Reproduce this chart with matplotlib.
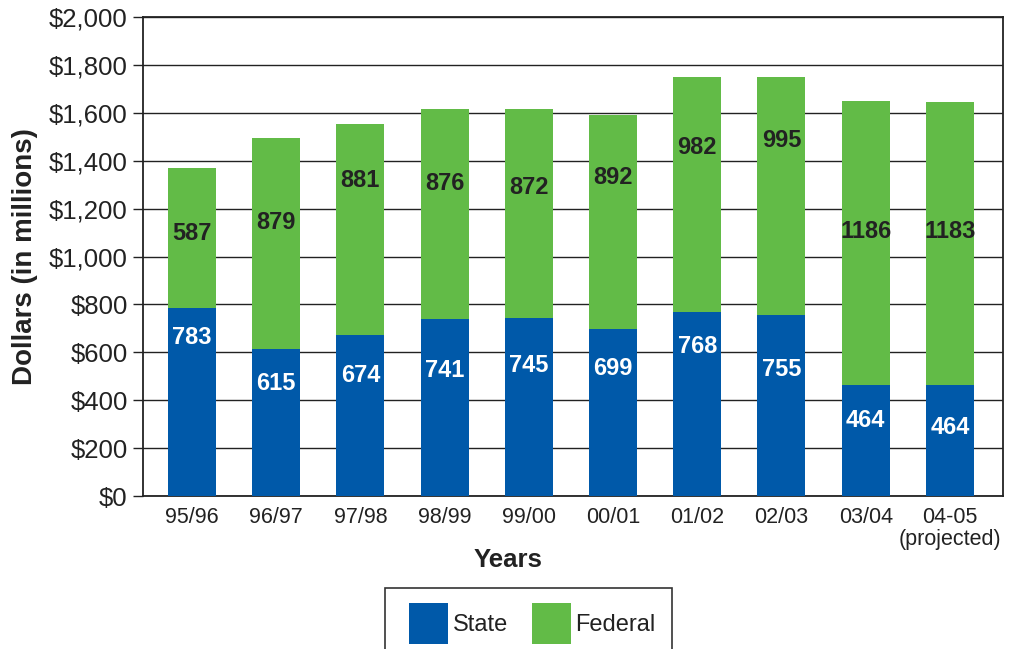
import matplotlib
matplotlib.use("Agg")
import matplotlib.pyplot as plt
from matplotlib.patches import Patch, Rectangle
from matplotlib.ticker import FuncFormatter, MultipleLocator

plt.rcParams['font.family'] = ['Liberation Sans', 'DejaVu Sans']

years = ["95/96", "96/97", "97/98", "98/99", "99/00", "00/01",
         "01/02", "02/03", "03/04", "04-05\n(projected)"]
state = [783, 615, 674, 741, 745, 699, 768, 755, 464, 464]
federal = [587, 879, 881, 876, 872, 892, 982, 995, 1186, 1183]

# vertical anchors (in dollars) for the in-bar value labels
state_label_y = [660, 468, 505, 526, 543, 534, 626, 530, 317, 288]
federal_label_y = [1094, 1144, 1319, 1303, 1290, 1328, 1457, 1486, 1106, 1106]

blue = "#0059A9"
green = "#62BB47"
ink = "#222222"

W, H = 1013, 649
fig = plt.figure(figsize=(W / 100, H / 100), dpi=100)
ax = fig.add_axes([143 / W, 1 - 496 / H, 860 / W, 479 / H])

x = range(len(years))
width = 0.57
ax.bar(x, state, width, color=blue, zorder=3)
ax.bar(x, federal, width, bottom=state, color=green, zorder=3)

for i in x:
    ax.text(i, state_label_y[i], str(state[i]), ha='center', va='center',
            color='white', fontsize=17, fontweight='bold', zorder=4)
    ax.text(i, federal_label_y[i], str(federal[i]), ha='center', va='center',
            color=ink, fontsize=17, fontweight='bold', zorder=4)

ax.set_xlim(-0.58, len(years) - 0.37)
ax.set_ylim(0, 2000)
ax.yaxis.set_major_locator(MultipleLocator(200))
ax.yaxis.set_major_formatter(FuncFormatter(lambda v, p: f"${v:,.0f}"))
ax.grid(axis='y', color=ink, linewidth=1.0, zorder=0)

ax.set_xticks(list(x))
ax.set_xticklabels(years, fontsize=15.5, color=ink, linespacing=1.05)
ax.tick_params(axis='x', length=0, pad=8)
ax.tick_params(axis='y', labelsize=18.5, labelcolor=ink, length=7,
               width=1.0, color=ink, pad=4)

for s in ax.spines.values():
    s.set_color(ink)
    s.set_linewidth(1.3)

ax.set_xlabel("Years", fontsize=18.5, fontweight='bold', color=ink)
ax.xaxis.set_label_coords((508 - 143) / 860, -(560 - 496) / 479)
ax.xaxis.label.set_va('center')
ax.set_ylabel("Dollars (in millions)", fontsize=20, fontweight='bold',
              color=ink, labelpad=8)

# legend box runs off the bottom edge of the figure
fig.patches.append(Rectangle((385 / W, -0.05), (672 - 385) / W,
                             0.05 + (649 - 588) / H,
                             transform=fig.transFigure, facecolor='white',
                             edgecolor='#333333', linewidth=1.2))

handles = [Patch(facecolor=blue, edgecolor='none', label="State"),
           Patch(facecolor=green, edgecolor='none', label="Federal")]
leg = fig.legend(handles=handles, loc='upper left',
                 bbox_to_anchor=(409 / W, 1 - 603 / H),
                 ncol=2, fontsize=17, frameon=False,
                 handlelength=1.65, handleheight=2.3, handletextpad=0.2,
                 columnspacing=1.0, borderpad=0, borderaxespad=0)
for t in leg.get_texts():
    t.set_color(ink)

fig.savefig("out.png", dpi=100)
